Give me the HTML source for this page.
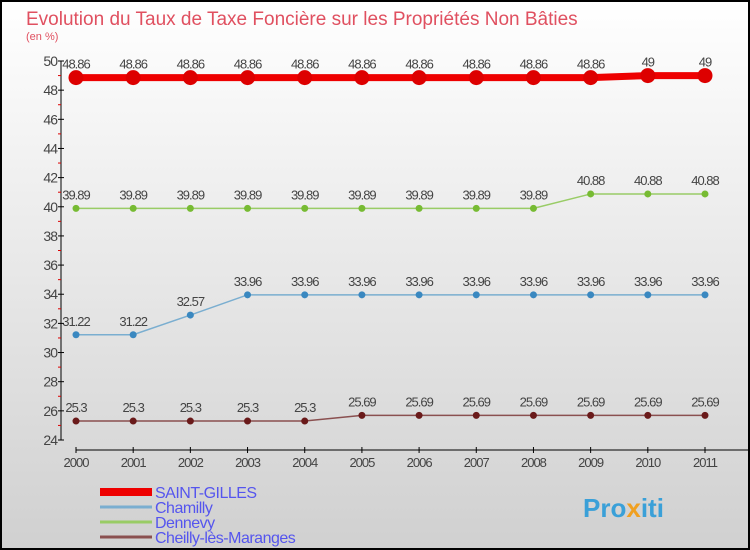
<!DOCTYPE html>
<html><head><meta charset="utf-8"><style>
body{margin:0}
#c{width:750px;height:550px;position:relative;overflow:hidden;font-family:"Liberation Sans",sans-serif;}
</style></head><body>
<div id="c">
<svg width="750" height="550" xmlns="http://www.w3.org/2000/svg" id="svg">
<defs><linearGradient id="bg" x1="0" y1="0" x2="0" y2="1"><stop offset="0" stop-color="#ffffff"/><stop offset="1" stop-color="#d0d0d0"/></linearGradient></defs>
<rect x="1" y="1" width="748" height="548" fill="url(#bg)" stroke="#000" stroke-width="2"/>
<text x="26" y="25" font-size="19" fill="#e05060">Evolution du Taux de Taxe Foncière sur les Propriétés Non Bâties</text>
<text x="26" y="40" font-size="11" fill="#e05060">(en %)</text>
<g id="axes"></g><g id="series"></g><g id="legend"></g>
<text x="583" y="517" font-size="26" font-weight="bold" fill="#3aa0d8">Pro<tspan fill="#f0a020">x</tspan>iti</text>
</svg>
</div>
<script>
const years=[2000,2001,2002,2003,2004,2005,2006,2007,2008,2009,2010,2011];
const saintGilles=[48.86,48.86,48.86,48.86,48.86,48.86,48.86,48.86,48.86,48.86,49,49];
const chamilly=[31.22,31.22,32.57,33.96,33.96,33.96,33.96,33.96,33.96,33.96,33.96,33.96];
const dennevy=[39.89,39.89,39.89,39.89,39.89,39.89,39.89,39.89,39.89,40.88,40.88,40.88];
const cheilly=[25.3,25.3,25.3,25.3,25.3,25.69,25.69,25.69,25.69,25.69,25.69,25.69];
const yTicks=[24,26,28,30,32,34,36,38,40,42,44,46,48,50];
const NS="http://www.w3.org/2000/svg";
const x=i=>76+i*(705-76)/(years.length-1);
const y=v=>440-(v-24)*(379/26);
function mk(t,a,p){const e=document.createElementNS(NS,t);for(const k in a)e.setAttribute(k,a[k]);p.appendChild(e);return e;}
const ax=document.getElementById('axes');
let l=mk('line',{x1:61,y1:y(50),x2:61,y2:y(24),stroke:'#000'},ax);

yTicks.forEach(v=>{mk('line',{x1:58,y1:y(v),x2:64,y2:y(v),stroke:'#000'},ax);
 if(v<50)mk('line',{x1:58,y1:y(v+1),x2:61,y2:y(v+1),stroke:'#d00'},ax);
 const t=mk('text',{x:57,y:y(v)+5,'font-size':14,fill:'#444','text-anchor':'end','letter-spacing':'-1'},ax);t.textContent=v;
 });
l=mk('line',{x1:76,y1:450,x2:750,y2:450,stroke:'#000'},ax);

years.forEach((yr,i)=>{mk('line',{x1:x(i),y1:447,x2:x(i),y2:453,stroke:'#000'},ax);
 const t=mk('text',{x:x(i),y:467,'font-size':13,fill:'#444','text-anchor':'middle','letter-spacing':'-1'},ax);t.textContent=yr;
 });
const sg=document.getElementById('series');
const series=[[saintGilles,'#ee0000','#dd0000',7,7.5,'saint-gilles'],[chamilly,'#7aaed0','#3a88c0',1.5,3.5,'chamilly'],[dennevy,'#99cc66','#77bb33',1.5,3.5,'dennevy'],[cheilly,'#8a5050','#6a1a1a',1.5,3.5,'cheilly']];
series.forEach(([d,lc,pc,w,r,n])=>{
 const p=mk('polyline',{points:d.map((v,i)=>x(i)+','+y(v)).join(' '),fill:'none',stroke:lc,'stroke-width':w},sg);
 
 d.forEach((v,i)=>{const c=mk('circle',{cx:x(i),cy:y(v),r:r,fill:pc},sg);
  
  const t=mk('text',{x:x(i),y:y(v)-9,'font-size':13,fill:'#444','text-anchor':'middle','letter-spacing':'-1'},sg);t.textContent=v;
  });});
const lg=document.getElementById('legend');
const names=['SAINT-GILLES','Chamilly','Dennevy','Cheilly-lès-Maranges'];
const lcols=['#ee0000','#7aaed0','#99cc66','#8a5050'];
names.forEach((nm,i)=>{const yy=492+i*15;
 const r=mk('rect',{x:100,y:yy-(i?1.5:4),width:52,height:i?3:8,fill:lcols[i]},lg);
 
 const t=mk('text',{x:155,y:yy+6,'font-size':16,fill:'#5555ee','letter-spacing':'-0.5'},lg);t.textContent=nm;
 });
</script>
</body></html>
